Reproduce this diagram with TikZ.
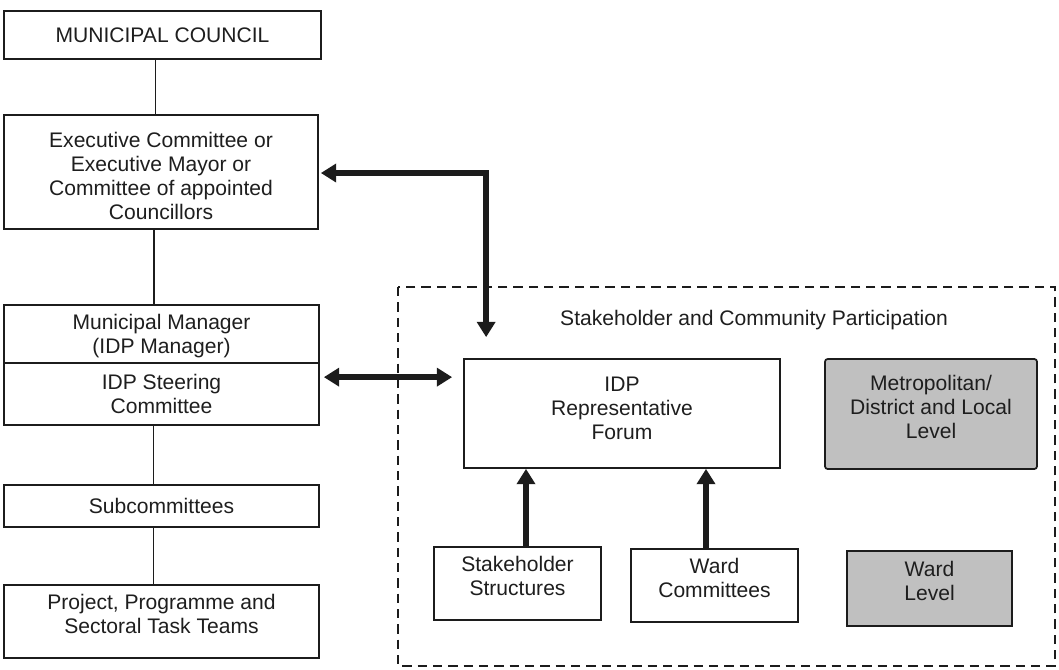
\documentclass[tikz,border=0pt]{standalone}
\usepackage{fontspec}
\setmainfont{Liberation Sans}
\usetikzlibrary{arrows.meta,calc}
\definecolor{ink}{RGB}{28,28,28}
\definecolor{txt}{RGB}{30,30,30}
\definecolor{levelgray}{RGB}{192,192,192}
% stacked lines, set higher (or lower, if negative) inside their box
\newcommand\lifted[2]{\raisebox{0pt}[\height][\dimexpr\depth+#1+#1\relax]{%
  \begin{tabular}{@{}c@{}}#2\end{tabular}}}
\tikzset{
  box/.style={draw=ink, line width=1.3pt, fill=white, inner sep=0pt,
    align=center, text=txt, font=\fontsize{15.8}{18}\selectfont},
  graybox/.style={box, fill=levelgray},
  link/.style={draw=ink, line width=1.3pt},
  flow/.style={draw=ink, line width=4pt,
    -{Triangle[width=13.5pt,length=11.5pt]}},
  twoway/.style={draw=ink, line width=4pt,
    {Triangle[width=13.5pt,length=11.5pt]}-{Triangle[width=13.5pt,length=11.5pt]}},
  frame/.style={draw=ink, line width=1.3pt, dash pattern=on 7pt off 4.5pt},
}
\begin{document}
\begin{tikzpicture}[x=0.75pt, y=-0.75pt]
\useasboundingbox (0,0) rectangle (1059,669);

% participation frame
\draw[frame] (398,287) rectangle (1055,666);
\node[text=txt, font=\fontsize{15.8}{18}\selectfont] (partlabel) at (754,320)
  {Stakeholder and Community Participation};

% municipal structures (left column)
\node[box, minimum width=317*0.75pt, minimum height=48*0.75pt] (council) at (162.5,35)
  {MUNICIPAL COUNCIL};
\node[box, minimum width=314*0.75pt, minimum height=114*0.75pt] (exec) at (161,172)
  {\lifted{-5.25pt}{Executive Committee or\\Executive Mayor or\\Committee of appointed\\Councillors}};
\node[box, minimum width=315*0.75pt, minimum height=58*0.75pt] (mm) at (161.5,334)
  {\lifted{-2.25pt}{Municipal Manager\\(IDP Manager)}};
\node[box, minimum width=315*0.75pt, minimum height=62*0.75pt] (steer) at (161.5,394)
  {IDP Steering\\Committee};
\node[box, minimum width=315*0.75pt, minimum height=42*0.75pt] (sub) at (161.5,506)
  {Subcommittees};
\node[box, minimum width=315*0.75pt, minimum height=73*0.75pt] (proj) at (161.5,621.5)
  {\lifted{3.75pt}{Project, Programme and\\Sectoral Task Teams}};

% participation structures
\node[box, minimum width=316*0.75pt, minimum height=109*0.75pt] (forum) at (622,413.5)
  {\lifted{2.25pt}{IDP\\Representative\\Forum}};
\node[graybox, rounded corners=2pt, minimum width=212*0.75pt, minimum height=110*0.75pt]
  (metro) at (931,414) {\lifted{3pt}{Metropolitan/\\District and Local\\Level}};
\node[box, minimum width=167*0.75pt, minimum height=73*0.75pt] (stake) at (517.5,583.5)
  {\lifted{3.75pt}{Stakeholder\\Structures}};
\node[box, minimum width=167*0.75pt, minimum height=73*0.75pt] (wardc) at (714.5,585.5)
  {\lifted{3.4pt}{Ward\\Committees}};
\node[graybox, minimum width=165*0.75pt, minimum height=75*0.75pt] (wardl) at (929.5,588.5)
  {\lifted{3.75pt}{Ward\\Level}};

% reporting lines
\coordinate (c1) at ($(council.south)+(-7,0)$);
\draw[link] (c1) -- (c1 |- exec.north);
\coordinate (c2) at ($(exec.south)+(-7,0)$);
\draw[link] (c2) -- (c2 |- mm.north);
\coordinate (c3) at ($(steer.south)+(-8,0)$);
\draw[link] (c3) -- (c3 |- sub.north);
\coordinate (c4) at ($(sub.south)+(-8,0)$);
\draw[link] (c4) -- (c4 |- proj.north);

% exchanges with the forum
\coordinate (fdrop) at ($(forum.north west)+(23,-21)$);
\draw[twoway] ($(exec.east)+(2,1)$) -| (fdrop);
\coordinate (sleft) at ($(steer.north east)+(4,15)$);
\coordinate (fleft) at ($(forum.north west)+(-11,19)$);
\draw[twoway] (sleft) -- (sleft -| fleft);

% inputs into the forum
\coordinate (s1) at ($(stake.north)+(8.5,0)$);
\draw[flow] (s1) -- (s1 |- forum.south);
\coordinate (w1) at ($(wardc.north)+(-8.5,0)$);
\draw[flow] (w1) -- (w1 |- forum.south);
\end{tikzpicture}
\end{document}
